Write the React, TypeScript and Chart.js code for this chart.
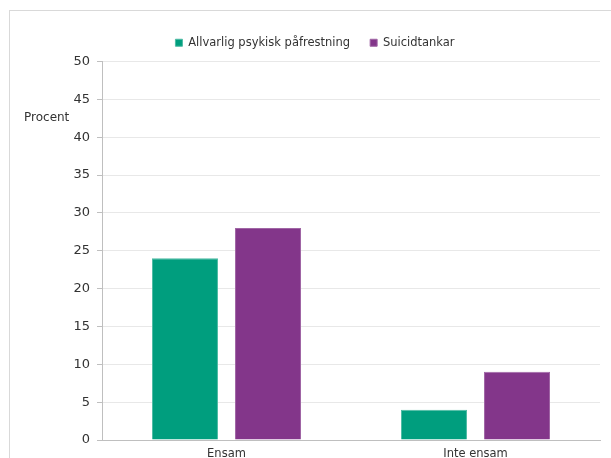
import React, { useEffect, useRef } from "react";
import { Chart, registerables } from "chart.js";

Chart.register(...registerables);

const categories = ["Ensam", "Inte ensam"];
const seriesNames = ["Allvarlig psykisk påfrestning", "Suicidtankar"];
const allvarligValues = [24, 4];
const suicidValues = [28, 9];
const yAxisLabel = "Procent";
const yMin = 0;
const yMax = 50;
const yStep = 5;

const FONT = "'DejaVu Sans', Verdana, sans-serif";

export default function App() {
  const ref = useRef<HTMLCanvasElement | null>(null);

  useEffect(() => {
    const canvas = ref.current;
    if (!canvas) return;
    const procentPlugin = {
      id: "procentLabel",
      beforeLayout(chart: any) {
        const lg = chart.legend;
        if (lg && !lg.__patched) {
          const orig = lg.fit.bind(lg);
          lg.fit = () => {
            orig();
            lg.height += 3;
          };
          lg.__patched = true;
        }
      },
      afterDraw(chart: any) {
        const ctx = chart.ctx;
        const y = chart.scales.y;
        ctx.save();
        ctx.font = `12px ${FONT}`;
        ctx.fillStyle = "#333333";
        ctx.textAlign = "left";
        ctx.textBaseline = "middle";
        ctx.fillText(yAxisLabel, 24, y.getPixelForValue(42.5));
        ctx.restore();
      },
    };
    const chart = new Chart(canvas, {
      type: "bar",
      data: {
        labels: categories,
        datasets: [
          {
            label: seriesNames[0],
            data: allvarligValues,
            backgroundColor: "#009e7e",
            borderColor: "#4dbba4",
            borderWidth: 1,
          },
          {
            label: seriesNames[1],
            data: suicidValues,
            backgroundColor: "#83368a",
            borderColor: "#a066a5",
            borderWidth: 1,
          },
        ],
      },
      options: {
        animation: false,
        responsive: false,
        maintainAspectRatio: false,
        layout: { padding: { top: 17, right: 11, left: 30, bottom: 0 } },
        datasets: { bar: { categoryPercentage: 0.667, barPercentage: 0.795 } },
        plugins: {
          legend: {
            position: "top",
            labels: {
              boxWidth: 7,
              boxHeight: 7,
              padding: 20,
              color: "#333333",
              font: { family: FONT, size: 11.5 },
            },
          },
          tooltip: { enabled: false },
        },
        scales: {
          x: {
            grid: { display: false, drawTicks: false },
            border: { color: "#bfbfbf" },
            ticks: {
              color: "#333333",
              padding: 7,
              font: { family: FONT, size: 11.5 },
            },
            afterFit(scale: any) {
              scale.height = 18;
            },
          },
          y: {
            min: yMin,
            max: yMax,
            ticks: {
              stepSize: yStep,
              color: "#333333",
              padding: 7,
              font: { family: FONT, size: 13 },
            },
            grid: {
              color: "#e8e8e8",
              tickColor: "#bfbfbf",
              tickLength: 5,
            },
            border: { color: "#bfbfbf" },
            afterFit(scale: any) {
              scale.width = 72;
            },
          },
        },
      },
      plugins: [procentPlugin],
    });
    return () => chart.destroy();
  }, []);

  return (
    <div style={{ position: "fixed", left: 0, top: 0, width: 611, height: 458, background: "#fff" }}>
      <canvas ref={ref} width={611} height={458} style={{ position: "absolute", left: 0, top: 0 }} />
      <div
        style={{
          position: "absolute",
          left: 9,
          top: 10,
          width: 620,
          height: 460,
          border: "1px solid #d9d9d9",
          pointerEvents: "none",
        }}
      />
    </div>
  );
}
